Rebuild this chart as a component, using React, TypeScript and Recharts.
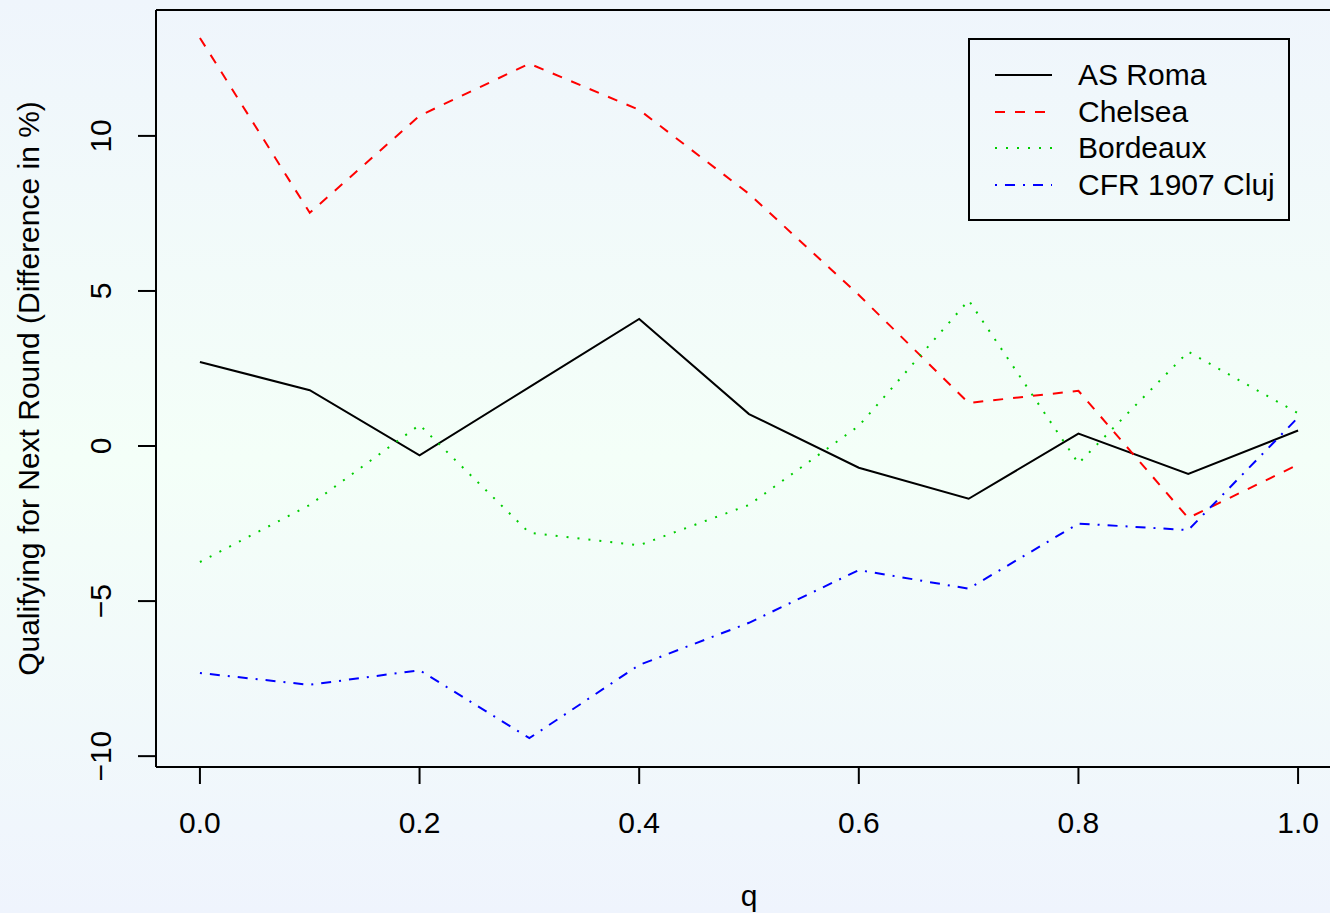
import { Label, Legend, Line, LineChart, XAxis, YAxis } from 'recharts';

const qValues = [0, 0.1, 0.2, 0.3, 0.4, 0.5, 0.6, 0.7, 0.8, 0.9, 1.0];
const romaValues = [2.71, 1.8, -0.3, 1.9, 4.1, 1.03, -0.7, -1.7, 0.4, -0.9, 0.5];
const chelseaValues = [13.16, 7.52, 10.65, 12.33, 10.84, 8.13, 4.87, 1.39, 1.78, -2.32, -0.6];
const bordeauxValues = [-3.74, -1.9, 0.68, -2.8, -3.2, -1.9, 0.65, 4.7, -0.56, 3.04, 1.06];
const clujValues = [-7.32, -7.7, -7.23, -9.42, -7.06, -5.7, -4.0, -4.6, -2.5, -2.71, 0.92];

const xTicks = [0, 0.2, 0.4, 0.6, 0.8, 1.0];
const yTicks = [-10, -5, 0, 5, 10];

const series = [
    { key: 'roma', name: 'AS Roma', color: '#000000', dash: undefined },
    { key: 'chelsea', name: 'Chelsea', color: '#FF0000', dash: '10 10' },
    { key: 'bordeaux', name: 'Bordeaux', color: '#00CD00', dash: '2 9' },
    { key: 'cluj', name: 'CFR 1907 Cluj', color: '#0000FF', dash: '2 8 10 8' },
];

const data = qValues.map((q, i) => ({
    q,
    roma: romaValues[i],
    chelsea: chelseaValues[i],
    bordeaux: bordeauxValues[i],
    cluj: clujValues[i],
}));

const FONT = '"Liberation Sans", Arial, Helvetica, sans-serif';

function XTick({ x, y, payload }: any) {
    return (
        <text x={x} y={y} dy={41} textAnchor="middle" fontSize={30} fontFamily={FONT} fill="#000">
            {payload.value.toFixed(1)}
        </text>
    );
}

function YTick({ x, y, payload }: any) {
    const v = payload.value < 0 ? '\u2212' + Math.abs(payload.value) : String(payload.value);
    return (
        <text transform={`translate(${x},${y}) rotate(-90)`} textAnchor="middle" fontSize={30} fontFamily={FONT} fill="#000">
            {v}
        </text>
    );
}

function YLabel({ viewBox }: any) {
    const cy = viewBox.y + viewBox.height / 2;
    return (
        <text transform={`translate(39,${cy}) rotate(-90)`} textAnchor="middle" fontSize={30} fontFamily={FONT} fill="#000">
            Qualifying for Next Round (Difference in %)
        </text>
    );
}

function LegendBox() {
    return (
        <div style={{ width: 322, height: 183, border: '2px solid #000', boxSizing: 'border-box', position: 'relative', fontFamily: FONT }}>
            {series.map((s, i) => {
                const cy = 35 + i * 36.5;
                return (
                    <div key={s.key}>
                        <svg width={60} height={6} style={{ position: 'absolute', left: 25, top: cy - 3 }}>
                            <line x1={0} y1={3} x2={57} y2={3} stroke={s.color} strokeWidth={2} strokeDasharray={s.dash} />
                        </svg>
                        <span style={{ position: 'absolute', left: 108, top: cy - 18, fontSize: 30, lineHeight: '36px', whiteSpace: 'nowrap', color: '#000' }}>
                            {s.name}
                        </span>
                    </div>
                );
            })}
        </div>
    );
}

export default function App() {
    return (
        <div
            style={{
                position: 'absolute',
                top: 0,
                left: 0,
                width: 1330,
                height: 913,
                overflow: 'hidden',
                background: 'linear-gradient(to bottom, #eff5fc 0%, #f4fff8 50%, #eff4fd 100%)',
            }}
        >
            <LineChart width={1354} height={913} data={data} margin={{ top: 9, right: 12, left: 0, bottom: 0 }}>
                <XAxis
                    xAxisId="top"
                    orientation="top"
                    dataKey="q"
                    type="number"
                    domain={[-0.04, 1.04]}
                    height={1}
                    tick={false}
                    tickLine={false}
                    axisLine={{ stroke: '#000', strokeWidth: 2 }}
                />
                <XAxis
                    dataKey="q"
                    type="number"
                    domain={[-0.04, 1.04]}
                    ticks={xTicks}
                    height={146}
                    tickSize={17}
                    tickMargin={8}
                    tick={<XTick />}
                    tickLine={{ stroke: '#000', strokeWidth: 2 }}
                    axisLine={{ stroke: '#000', strokeWidth: 2 }}
                    interval={0}
                >
                    <Label value="q" position="insideBottom" offset={7} fontSize={30} fontFamily={FONT} fill="#000" />
                </XAxis>
                <YAxis
                    type="number"
                    domain={[-10.35, 14.06]}
                    allowDataOverflow
                    ticks={yTicks}
                    width={156}
                    tickSize={18}
                    tickMargin={27}
                    tick={<YTick />}
                    tickLine={{ stroke: '#000', strokeWidth: 2 }}
                    axisLine={{ stroke: '#000', strokeWidth: 2 }}
                    interval={0}
                >
                    <Label content={<YLabel />} />
                </YAxis>
                {series.map((s) => (
                    <Line
                        key={s.key}
                        type="linear"
                        dataKey={s.key}
                        name={s.name}
                        stroke={s.color}
                        strokeWidth={2}
                        strokeDasharray={s.dash}
                        dot={false}
                        activeDot={false}
                        isAnimationActive={false}
                    />
                ))}
                <Legend
                    layout="horizontal"
                    verticalAlign="middle"
                    align="center"
                    content={<LegendBox />}
                    wrapperStyle={{ position: 'absolute', left: 968, top: 38, width: 'auto' }}
                />
            </LineChart>
        </div>
    );
}
